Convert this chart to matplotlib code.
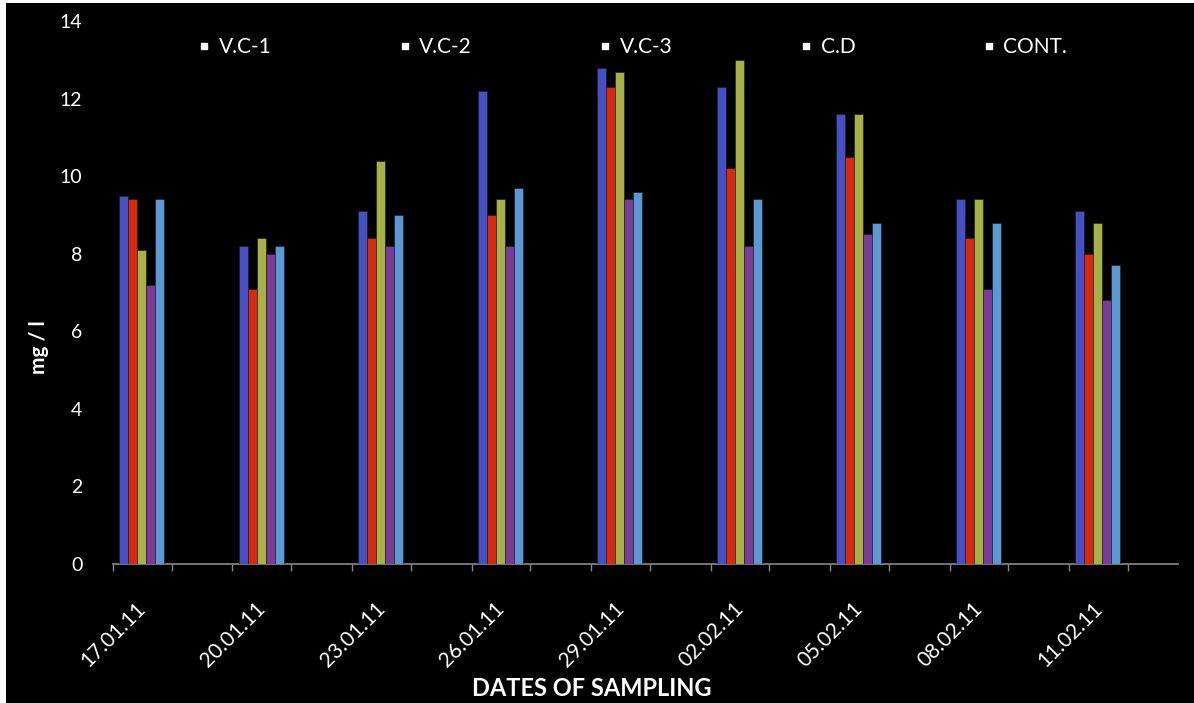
import numpy as np
import matplotlib.pyplot as plt
from matplotlib.patches import Rectangle
from matplotlib.lines import Line2D

plt.rcParams['font.family'] = ['Lato', 'DejaVu Sans']

# Sampling dates and readings (mg/l) for each site
dates = ["17.01.11", "20.01.11", "23.01.11", "26.01.11", "29.01.11",
         "02.02.11", "05.02.11", "08.02.11", "11.02.11"]
vc1 = [9.5, 8.2, 9.1, 12.2, 12.8, 12.3, 11.6, 9.4, 9.1]
vc2 = [9.4, 7.1, 8.4, 9.0, 12.3, 10.2, 10.5, 8.4, 8.0]
vc3 = [8.1, 8.4, 10.4, 9.4, 12.7, 13.0, 11.6, 9.4, 8.8]
cd = [7.2, 8.0, 8.2, 8.2, 9.4, 8.2, 8.5, 7.1, 6.8]
cont = [9.4, 8.2, 9.0, 9.7, 9.6, 9.4, 8.8, 8.8, 7.7]

names = ["V.C-1", "V.C-2", "V.C-3", "C.D", "CONT."]
colors = ["#4650c4", "#d42a12", "#a8b048", "#7a3c98", "#5c98d4"]

fig = plt.figure(figsize=(11.94, 7.03), dpi=100, facecolor="white")
# black panel with a thin white margin on the top and left
fig.add_artist(Rectangle((6 / 1194, 0), 1 - 6 / 1194, 1 - 3 / 703,
                         transform=fig.transFigure, facecolor="black",
                         edgecolor="none", zorder=-5))

ax = fig.add_axes([0.0946, 0.1977, 0.892, 0.7723])
ax.set_facecolor("black")
ax.set_zorder(2)

x = np.arange(len(dates))
w = 0.075
for k, (vals, c) in enumerate(zip([vc1, vc2, vc3, cd, cont], colors)):
    ax.bar(x + (k - 2) * w, vals, width=w, color=c, edgecolor="#1a1a1a",
           linewidth=0.4, zorder=3)

ax.set_ylim(0, 14)
ax.set_yticks(np.arange(0, 15, 2))
ax.set_xlim(-0.24, 8.67)

# date labels under each cluster, tick marks at the category edges
ax.set_xticks(x - 0.05)
ax.set_xticklabels(dates, rotation=45, ha="right", rotation_mode="anchor",
                   color="white", fontsize=15)
ax.tick_params(axis="x", which="major", length=0, pad=25)
ax.set_xticks(np.concatenate([x - 0.24, x + 0.25]), minor=True)
ax.tick_params(axis="x", which="minor", length=5, color="#888888", width=1)
ax.tick_params(axis="y", length=0, labelcolor="white", labelsize=14, pad=22)

for side in ["top", "right", "left"]:
    ax.spines[side].set_visible(False)
ax.spines["bottom"].set_color("#8a8a8a")
ax.spines["bottom"].set_linewidth(1.2)

ax.set_ylabel("mg / l", color="white", fontsize=15, fontweight="bold")
ax.yaxis.set_label_coords(-0.06, 0.4)
fig.text(592 / 1194, 1 - 688 / 703, "DATES OF SAMPLING", color="white",
         fontsize=17, fontweight="bold", ha="center", va="center")

handles = [Line2D([], [], marker="s", linestyle="none", markersize=5,
                  markerfacecolor="white", markeredgecolor="white")
           for _ in names]
leg = ax.legend(handles, names, ncol=5, loc="upper left",
                bbox_to_anchor=(0.060, 1.005), frameon=False,
                handletextpad=0.3, handlelength=0.8, columnspacing=6.0,
                fontsize=15)
for t in leg.get_texts():
    t.set_color("white")

fig.savefig("out.png", dpi=100, facecolor="white")
